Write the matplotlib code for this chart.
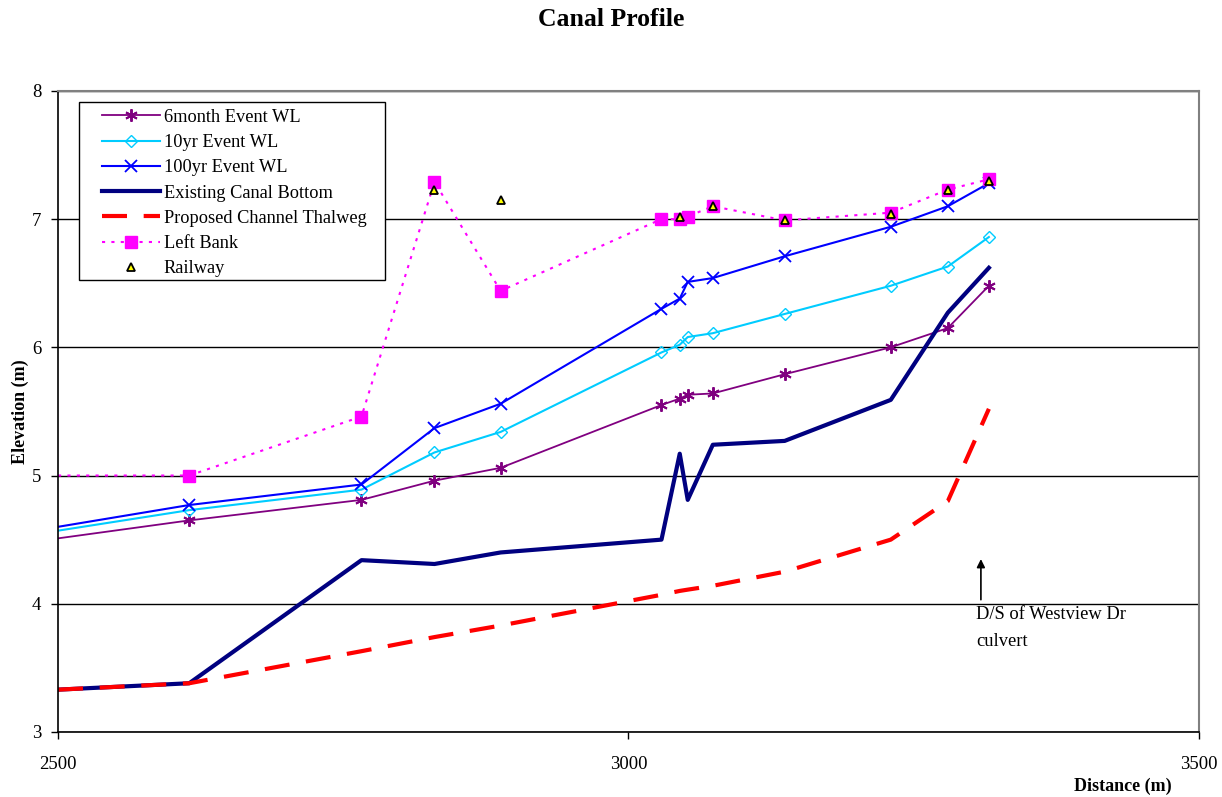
import numpy as np
import matplotlib
matplotlib.use("Agg")
import matplotlib.pyplot as plt
from matplotlib.patches import Rectangle

plt.rcParams['font.family'] = ['Liberation Serif', 'DejaVu Serif']

# chainage (m) of the surveyed sections
dist = [2500, 2615, 2766, 2830, 2888, 3029, 3045, 3052, 3074, 3137, 3230, 3280, 3316]

wl_6month = [4.51, 4.65, 4.81, 4.96, 5.06, 5.55, 5.60, 5.63, 5.64, 5.79, 6.00, 6.15, 6.48]
wl_10yr = [4.57, 4.73, 4.89, 5.18, 5.34, 5.96, 6.02, 6.08, 6.11, 6.26, 6.48, 6.63, 6.86]
wl_100yr = [4.60, 4.77, 4.93, 5.37, 5.56, 6.30, 6.38, 6.51, 6.54, 6.71, 6.94, 7.10, 7.28]

canal_dist = [2500, 2615, 2766, 2830, 2888, 3029, 3045, 3052, 3074, 3137, 3230, 3280, 3316]
canal_bottom = [3.33, 3.38, 4.34, 4.31, 4.40, 4.50, 5.17, 4.81, 5.24, 5.27, 5.59, 6.27, 6.62]

thalweg = [3.33, 3.38, 3.63, 3.74, 3.83, 4.07, 4.10, 4.11, 4.14, 4.25, 4.50, 4.80, 5.52]

bank_dist = [2500, 2615, 2766, 2830, 2888, 3029, 3045, 3052, 3074, 3137, 3230, 3280, 3316]
left_bank = [5.00, 5.00, 5.46, 7.29, 6.44, 7.00, 7.00, 7.02, 7.10, 6.99, 7.05, 7.23, 7.31]

rail_dist = [2830, 2888, 3045, 3074, 3137, 3230, 3280, 3316]
railway = [7.23, 7.15, 7.02, 7.10, 6.99, 7.04, 7.23, 7.30]

fig = plt.figure(figsize=(12.22, 7.97), dpi=100)
ax = fig.add_axes([0.0475, 0.0816, 0.9335, 0.8044])

skip = slice(1, None)  # first point sits on the axis edge, no marker there
ax.plot(dist, wl_6month, color='#800080', lw=1.3, marker=(6, 2, 0), ms=9, mew=1.4,
        markevery=skip, label='6month Event WL')
ax.plot(dist, wl_10yr, color='#00CCFF', lw=1.5, marker='D', ms=6, mfc='none',
        markevery=skip, label='10yr Event WL')
ax.plot(dist, wl_100yr, color='#0000FF', lw=1.5, marker='x', ms=9, mew=1.3,
        markevery=skip, label='100yr Event WL')
ax.plot(canal_dist, canal_bottom, color='#000080', lw=3, label='Existing Canal Bottom')
ax.plot(dist, thalweg, color='#FF0000', lw=3, dashes=(6, 4), label='Proposed Channel Thalweg')
ax.plot(bank_dist, left_bank, color='#FF00FF', lw=1.5, ls=(0, (1.5, 3)), marker='s', ms=8,
        markevery=skip, label='Left Bank')
ax.plot(rail_dist, railway, ls='none', marker='^', ms=6, mfc='#FFFF00', mec='black',
        mew=1.3, label='Railway')

ax.annotate('', xy=(3309, 4.37), xytext=(3309, 4.01),
            arrowprops=dict(arrowstyle='-|>', color='black', lw=1.2, mutation_scale=12))
ax.text(3305, 3.98, 'D/S of Westview Dr\nculvert', fontsize=13.3, va='top', ha='left',
        linespacing=1.75)

ax.set_xlim(2500, 3500)
ax.set_ylim(3, 8)
ax.set_xticks([2500, 3000, 3500])
ax.set_yticks([3, 4, 5, 6, 7, 8])
ax.tick_params(labelsize=13.5, direction='out', length=5, width=1)
ax.tick_params(axis='x', pad=12)
ax.tick_params(axis='y', pad=7)
ax.yaxis.grid(True, color='black', lw=1)
ax.set_axisbelow(True)
for side in ['top', 'right']:
    ax.spines[side].set_color('#808080')
    ax.spines[side].set_linewidth(1.5)
for side in ['left', 'bottom']:
    ax.spines[side].set_linewidth(1.2)

ax.set_ylabel('Elevation (m)', fontsize=13, fontweight='bold', labelpad=2)
ax.set_xlabel('Distance (m)', fontsize=13, fontweight='bold')
ax.xaxis.set_label_coords(0.933, -0.072)

fig.suptitle('Canal Profile', fontsize=18.5, fontweight='bold', y=0.99)

# Excel-style legend box with wide side padding
ax.add_patch(Rectangle((0.0184, 0.7056), 0.268, 0.2773, transform=ax.transAxes,
                       facecolor='white', edgecolor='black', lw=1, zorder=4))
leg = ax.legend(loc='upper left', bbox_to_anchor=(0.0386, 0.972), fontsize=13.2,
                frameon=False, handlelength=3.15, labelspacing=0.45, borderpad=0,
                handletextpad=0.22, borderaxespad=0)
leg.set_zorder(5)

fig.savefig('out.png', dpi=100)
